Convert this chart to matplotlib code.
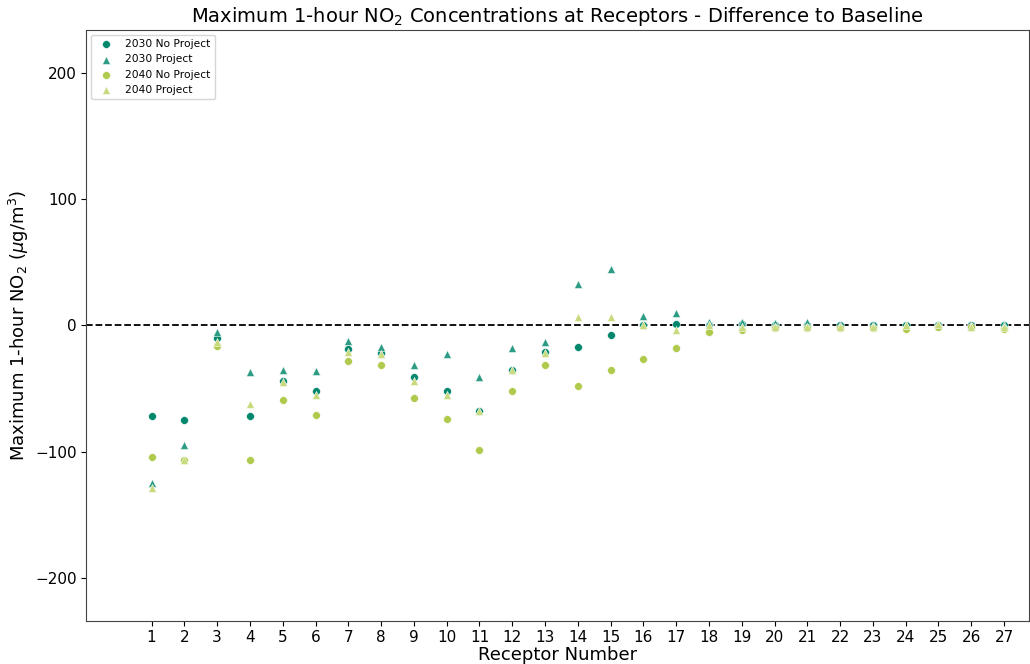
import numpy as np
import matplotlib.pyplot as plt

receptors = np.arange(1, 28)

no_project_2030 = [-72, -75, -10, -72, -44, -52, -19, -22, -41, -52, -68, -35.5, -21, -17.5, -8,
                   0, 1, 0.5, 1, 0, 0, 0, 0, 0, 0, 0, 0]
project_2030 = [-125, -95, -5, -37, -35, -36, -12, -17.5, -31, -23, -41, -18, -13.5, 33, 45,
                7.5, 10, 3, 3, 1.5, 2.5, 0.5, 0, 0, 0.5, 0.5, 0.5]
no_project_2040 = [-104, -107, -16.5, -107, -59, -71, -28, -31.5, -57.5, -74, -99, -52, -31.5, -48, -35,
                   -27, -18, -5, -3.5, -2, -2, -2, -2, -2.5, -1.5, -1.5, -2.5]
project_2040 = [-129, -107, -13, -62, -45, -55, -21, -23, -44, -55, -68, -35, -22, 7, 6.5,
                0, -4, 0, -1, -1, -1, -1, -1, 0.5, 1, -1, -1]

fig, ax = plt.subplots(figsize=(10.3, 6.64), dpi=100)
fig.subplots_adjust(left=0.0835, right=0.999, top=0.955, bottom=0.065)

ax.axhline(0, color='black', linestyle='--', linewidth=1.3, zorder=1)

ax.scatter(receptors, no_project_2030, marker='o', s=32, color='#00876c',
           edgecolors='white', linewidths=0.4, label='2030 No Project', zorder=3)
ax.scatter(receptors, project_2030, marker='^', s=34, color='#2e9c84',
           edgecolors='white', linewidths=0.4, label='2030 Project', zorder=3)
ax.scatter(receptors, no_project_2040, marker='o', s=32, color='#afca4c',
           edgecolors='white', linewidths=0.4, label='2040 No Project', zorder=3)
ax.scatter(receptors, project_2040, marker='^', s=34, color='#c7da7d',
           edgecolors='white', linewidths=0.4, label='2040 Project', zorder=3)

ax.set_xlim(-1.0, 27.76)
ax.set_ylim(-234, 234)
ax.set_xticks(receptors)
ax.set_yticks([-200, -100, 0, 100, 200])
ax.tick_params(labelsize=11, pad=3)
for s in ax.spines.values():
    s.set_color('#444444')

ax.set_xlabel('Receptor Number', fontsize=13, labelpad=1)
ax.set_ylabel(r'Maximum 1-hour NO$_2$ ($\mu$g/m$^3$)', fontsize=13, labelpad=3)
ax.set_title(r'Maximum 1-hour NO$_2$ Concentrations at Receptors - Difference to Baseline', fontsize=14)
ax.legend(loc='upper left', fontsize=7.7, borderaxespad=0.45)

fig.savefig('out.png', dpi=100)
